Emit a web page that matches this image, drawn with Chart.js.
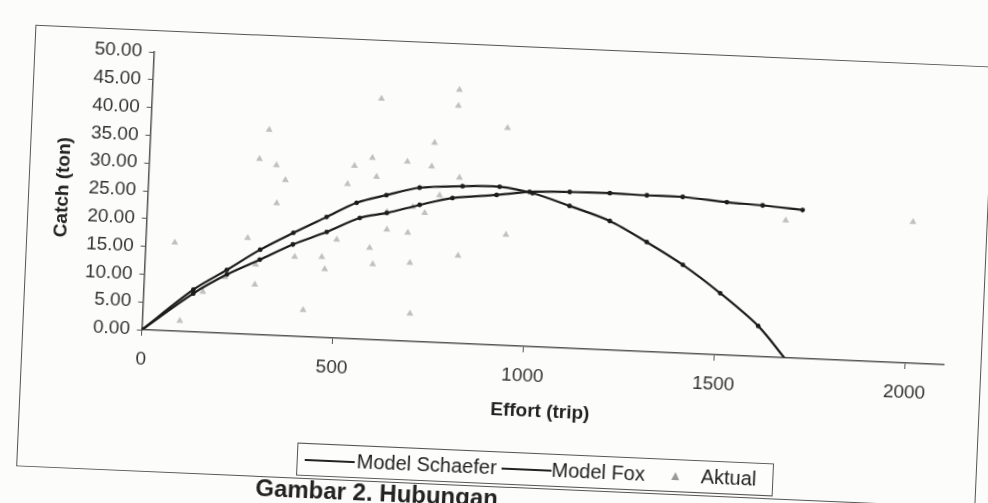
<!DOCTYPE html>
<html lang="id">
<head>
  <meta charset="utf-8">
  <title>Catch vs Effort</title>
  <script src="https://cdn.jsdelivr.net/npm/chart.js@4.4.1/dist/chart.umd.min.js"></script>
  <style>
    body { margin: 0; width: 988px; height: 503px; overflow: hidden; background: #fcfcfa;
           font-family: 'Liberation Sans', Arial, sans-serif; color: #222; }
    /* the scanned figure is slightly tilted, so the whole sheet is rotated */
    #sheet { position: absolute; left: 26px; top: 45px; width: 960px; height: 442px;
             transform: rotate(2.5deg); transform-origin: 468px 206.5px; }
    #frame { position: absolute; left: 0; top: 0; width: 960px; height: 442px;
             border: 1.5px solid #555; box-sizing: border-box; }
    #wrap { position: absolute; left: 0; top: 0; width: 960px; height: 442px; }
    #legend { position: absolute; left: 280px; top: 406px; width: 477px; height: 33px;
              border: 1.5px solid #555; box-sizing: border-box; display: flex; align-items: center;
              font-size: 20px; color: #222; background: #fdfdfc; padding-left: 7px; }
    #legend .ln { display: inline-block; width: 50px; height: 2px; background: #222; }
    #caption { position: absolute; left: 240px; top: 439px; font-size: 24px; font-weight: bold;
               color: #222; white-space: nowrap; }
  </style>
</head>
<body>
  <div id="sheet">
    <div id="frame"></div>
    <div id="wrap"><canvas id="chart"></canvas></div>
    <div id="legend">
      <span class="ln"></span><span style="margin-left:2px">Model Schaefer</span>
      <span class="ln" style="margin-left:5px"></span><span>Model Fox</span>
      <svg width="8" height="8" style="margin-left:27px"><polygon points="4,0 8,8 0,8" fill="#999"/></svg>
      <span style="margin-left:21px">Aktual</span>
    </div>
    <div id="caption">Gambar 2. Hubungan</div>
  </div>

  <script>
    // model curves
    var schaeferEffort = [0, 130, 215, 300, 385, 470, 547, 624, 710, 822, 919, 1006, 1104, 1211, 1310, 1407, 1508, 1611, 1688];
    var schaeferCatch = [0, 7.6, 11.4, 15.3, 18.6, 21.7, 24.5, 26.1, 27.7, 28.3, 28.5, 27.6, 25.6, 23.2, 19.7, 15.9, 11.1, 5.5, -0.4];

    var foxEffort = [0, 130, 216, 300, 385, 472, 557, 627, 712, 797, 912, 998, 1103, 1208, 1305, 1399, 1515, 1609, 1714];
    var foxCatch = [0, 6.9, 10.6, 13.5, 16.5, 19.0, 21.8, 22.9, 24.6, 26.1, 27.0, 27.8, 28.1, 28.2, 28.1, 28.1, 27.5, 27.2, 26.7];

    // observed catch
    var aktualEffort = [76, 98, 155, 211, 266, 290, 290, 288, 310, 333, 358, 338, 391, 462, 471, 419, 499, 521, 537, 583,
                        596, 600, 627, 629, 586, 596, 675, 684, 693, 699, 694, 726, 739, 744, 763, 803, 802, 813, 818,
                        933, 941, 1671, 2004];
    var aktualCatch = [15.9, 1.9, 7.3, 10.1, 17.3, 12.6, 9.0, 31.6, 36.9, 30.6, 28.0, 23.8, 14.3, 14.5, 12.3, 4.8, 17.7, 27.8, 31.1, 32.7,
                       29.3, 43.4, 23.1, 19.9, 16.5, 13.6, 32.3, 19.5, 14.1, 5.0, 24.2, 23.2, 31.6, 35.9, 26.5, 45.6, 42.7, 29.8, 15.8,
                       39.1, 19.9, 24.7, 25.4];

    var xTicks = [0, 500, 1000, 1500, 2000];
    var yTicks = [0, 5, 10, 15, 20, 25, 30, 35, 40, 45, 50];

    function pts(xs, ys) {
      return xs.map(function (x, i) { return { x: x, y: ys[i] }; });
    }

    Chart.defaults.font.family = "'Liberation Sans', Arial, sans-serif";
    Chart.defaults.color = '#333';

    var ctx = document.getElementById('chart').getContext('2d');
    new Chart(ctx, {
      type: 'scatter',
      data: {
        datasets: [
          {
            label: 'Model Schaefer',
            data: pts(schaeferEffort, schaeferCatch),
            showLine: true,
            tension: 0.3,
            borderColor: '#1c1c1c',
            backgroundColor: '#1c1c1c',
            borderWidth: 2.2,
            pointRadius: 1.3
          },
          {
            label: 'Model Fox',
            data: pts(foxEffort, foxCatch),
            showLine: true,
            tension: 0.3,
            borderColor: '#1c1c1c',
            backgroundColor: '#1c1c1c',
            borderWidth: 2.2,
            pointRadius: 1.3
          },
          {
            label: 'Aktual',
            data: pts(aktualEffort, aktualCatch),
            pointStyle: 'triangle',
            pointRadius: 4,
            backgroundColor: 'rgba(120,120,120,0.45)',
            borderColor: 'rgba(120,120,120,0.45)',
            borderWidth: 0
          }
        ]
      },
      options: {
        responsive: true,
        maintainAspectRatio: false,
        animation: false,
        layout: { padding: { left: 0, right: 38, top: 22, bottom: 57 } },
        plugins: { legend: { display: false }, tooltip: { enabled: false } },
        scales: {
          x: {
            type: 'linear',
            min: 0,
            max: 2100,
            afterFit: function (s) { s.height = 85; },
            afterBuildTicks: function (s) { s.ticks = xTicks.map(function (v) { return { value: v }; }); },
            ticks: { font: { size: 19 }, padding: 12, color: '#333',
                     callback: function (v) { return String(v); } },
            grid: { drawOnChartArea: false, drawTicks: true, tickLength: 6, color: '#555' },
            border: { color: '#555', width: 1.5 },
            title: { display: true, text: 'Effort (trip)', font: { size: 19, weight: 'bold' },
                     color: '#222', padding: { top: 0, bottom: 9 } }
          },
          y: {
            min: 0,
            max: 50,
            afterFit: function (s) { s.width = 119.7; },
            afterBuildTicks: function (s) { s.ticks = yTicks.map(function (v) { return { value: v }; }); },
            ticks: { font: { size: 19 }, padding: 7, color: '#333',
                     callback: function (v) { return v.toFixed(2); } },
            grid: { drawOnChartArea: false, drawTicks: true, tickLength: 5, color: '#555' },
            border: { color: '#555', width: 1.5 },
            title: { display: true, text: 'Catch (ton)', font: { size: 19, weight: 'bold' },
                     color: '#222', padding: { top: 23, bottom: 0 } }
          }
        }
      }
    });
  </script>
</body>
</html>
